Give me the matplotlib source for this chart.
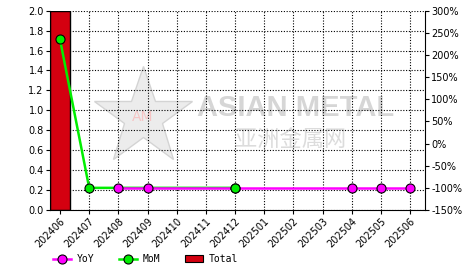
import matplotlib
matplotlib.use("Agg")
import matplotlib.pyplot as plt
import numpy as np

months = ["202406", "202407", "202408", "202409", "202410", "202411", "202412",
          "202501", "202502", "202503", "202504", "202505", "202506"]
total = [2.0, None, None, None, None, None, None, None, None, None, None, None, None]
yoy = [None, None, -100, -100, None, None, -100, None, None, None, -100, -100, -100]
mom = [235, -100, None, None, None, None, -100, None, None, None, None, None, None]

left_ticks = [0.0, 0.2, 0.4, 0.6, 0.8, 1.0, 1.2, 1.4, 1.6, 1.8, 2.0]
right_ticks = [-150, -100, -50, 0, 50, 100, 150, 200, 250, 300]

x = np.arange(len(months))

fig = plt.figure(figsize=(4.66, 2.72), dpi=100)
ax = fig.add_axes([50/466, 1-210/272, 375/466, 199.3/272])
ax2 = ax.twinx()

tv = [np.nan if v is None else v for v in total]
ax.bar(x, tv, width=0.686, color="#d40010", edgecolor="black", linewidth=1.0, zorder=2)
ax.set_ylim(0, 2.0)
ax.set_yticks(left_ticks)
ax.set_yticklabels([f"{t:.1f}" for t in left_ticks], fontsize=7)
ax.set_xlim(-0.343, 12.51)
ax.set_xticks(x)
ax.set_xticklabels(months, rotation=45, ha="right", rotation_mode="anchor", fontsize=7)
ax.grid(True, color="black", linestyle=(0, (1, 1.5)), linewidth=0.8)
ax.set_axisbelow(True)

ax2.set_ylim(-150, 300)
ax2.set_yticks(right_ticks)
ax2.set_yticklabels([f"{t}%" for t in right_ticks], fontsize=7)

for a in (ax, ax2):
    for s in a.spines.values():
        s.set_visible(False)
    a.tick_params(length=3, width=0.8, pad=1.5)
ax.spines["left"].set_visible(True)
ax.spines["bottom"].set_visible(True)
ax2.spines["right"].set_visible(True)

# watermark
ax.text(0.392, 0.512, "ASIAN METAL", transform=ax.transAxes, fontsize=21, fontweight="bold",
        family="Liberation Sans", color="#d6d6d6", ha="left", va="center", zorder=0)
ax.text(0.493, 0.356, "亚洲金属网", transform=ax.transAxes, fontsize=16,
        family=["Noto Sans CJK SC", "DejaVu Sans"], color="#dcdcdc", ha="left", va="center", zorder=0)
ax.plot([0.248], [0.467], transform=ax.transAxes, marker="*", markersize=74, color="#ececec",
        markeredgecolor="#d4d4d4", markeredgewidth=1.0, zorder=0, clip_on=False)
ax.text(0.248, 0.465, "AM", transform=ax.transAxes, fontsize=10, color="#f6c4c4",
        ha="center", va="center", zorder=0)

mx = [i for i, v in enumerate(mom) if v is not None]
mv = [mom[i] for i in mx]
yx = [i for i, v in enumerate(yoy) if v is not None]
yv = [yoy[i] for i in yx]

ax2.plot(mx, mv, color="#00ee00", linewidth=1.8, zorder=3)
ax2.plot(yx, yv, color="#ff00ff", linewidth=1.8, zorder=4,
         marker="o", markersize=6.5, markerfacecolor="#ff00ff", markeredgecolor="black", markeredgewidth=0.8)
ax2.plot(mx, mv, linestyle="none", zorder=5,
         marker="o", markersize=6.5, markerfacecolor="#00ee00", markeredgecolor="black", markeredgewidth=0.8)

from matplotlib.lines import Line2D
from matplotlib.patches import Patch
handles = [
    Line2D([], [], color="#ff00ff", linewidth=1.8, marker="o", markersize=6.5,
           markerfacecolor="#ff00ff", markeredgecolor="black", markeredgewidth=0.8),
    Line2D([], [], color="#00ee00", linewidth=1.8, marker="o", markersize=6.5,
           markerfacecolor="#00ee00", markeredgecolor="black", markeredgewidth=0.8),
    Patch(facecolor="#d40010", edgecolor="black", linewidth=0.8),
]
fig.legend(handles, ["YoY", "MoM", "Total"], loc="center left", bbox_to_anchor=(53/466, 13/272),
           ncol=3, frameon=False, prop={"family": "DejaVu Sans Mono", "size": 7},
           handlelength=1.8, handletextpad=0.6, columnspacing=2.6, borderpad=0, borderaxespad=0)

fig.savefig("out.png", dpi=100)
